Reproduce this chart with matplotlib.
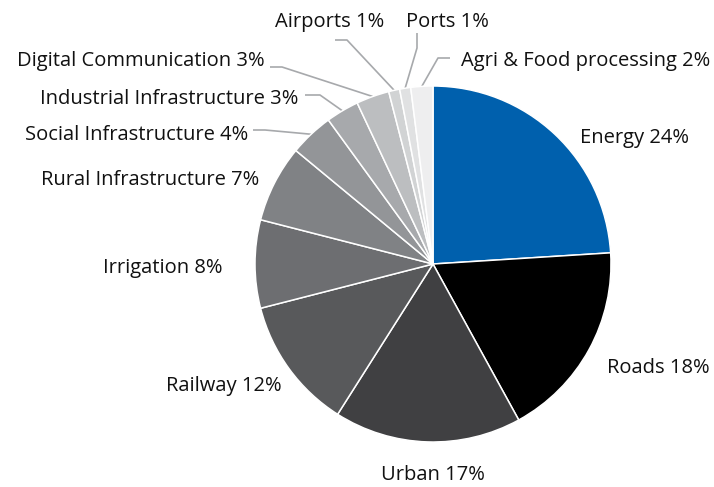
import numpy as np
import matplotlib
matplotlib.use("Agg")
import matplotlib.pyplot as plt

plt.rcParams["font.family"] = ["Open Sans", "DejaVu Sans"]

# Sector shares, clockwise from 12 o'clock
sectors = ["Energy", "Roads", "Urban", "Railway", "Irrigation",
           "Rural Infrastructure", "Social Infrastructure",
           "Industrial Infrastructure", "Digital Communication",
           "Airports", "Ports", "Agri & Food processing"]
shares = [24, 18, 17, 12, 8, 7, 4, 3, 3, 1, 1, 2]
colors = ["#0060ad", "#000000", "#404042", "#58595b", "#6d6e71", "#808285",
          "#939598", "#a7a9ac", "#bcbec0", "#d1d3d4", "#e0e1e2", "#eeeeef"]

# Canvas in pixel units (y measured upward)
W, H = 714, 487
CX, CY, R = 433, H - 264, 178

# label anchor (x, y from top), alignment; None elbow = no leader line
label_pos = [
    ((634, 138), "center", None),
    ((658, 368), "center", None),
    ((433, 475), "center", None),
    ((224, 386), "center", None),
    ((163, 268), "center", None),
    ((259, 180), "right", None),
    ((248, 135), "right", [(253, 130), (265, 130)]),
    ((298, 99), "right", [(305, 95), (320, 95)]),
    ((265, 61), "right", [(270, 67), (282, 67)]),
    ((330, 22), "center", [(335, 40), (347, 40)]),
    ((447, 22), "center", [(417, 33), (417, 48)]),
    ((461, 61), "left", [(450, 58), (438, 58)]),
]

fig = plt.figure(figsize=(W / 100, H / 100), dpi=100)
ax = fig.add_axes([0, 0, 1, 1])
ax.pie(shares, colors=colors, startangle=90, counterclock=False,
       center=(CX, CY), radius=R,
       wedgeprops=dict(edgecolor="white", linewidth=1.1))
ax.set_xlim(0, W)
ax.set_ylim(0, H)
ax.set_aspect("equal")
ax.axis("off")

cum = np.cumsum(shares) - np.array(shares) / 2
for name, val, mid, (pos, ha, elbow) in zip(sectors, shares, cum, label_pos):
    ax.text(pos[0], H - pos[1], f"{name} {val}%", ha=ha, va="center",
            fontsize=14.5, color="#111111")
    if elbow is None:
        continue
    theta = np.deg2rad(90 - mid / sum(shares) * 360)
    tip = (CX + R * np.cos(theta), CY + R * np.sin(theta))
    xs = [p[0] for p in elbow] + [tip[0]]
    ys = [H - p[1] for p in elbow] + [tip[1]]
    ax.plot(xs, ys, color="#a7a9ac", lw=1.2, solid_capstyle="butt", zorder=0)

fig.savefig("out.png", dpi=100)
